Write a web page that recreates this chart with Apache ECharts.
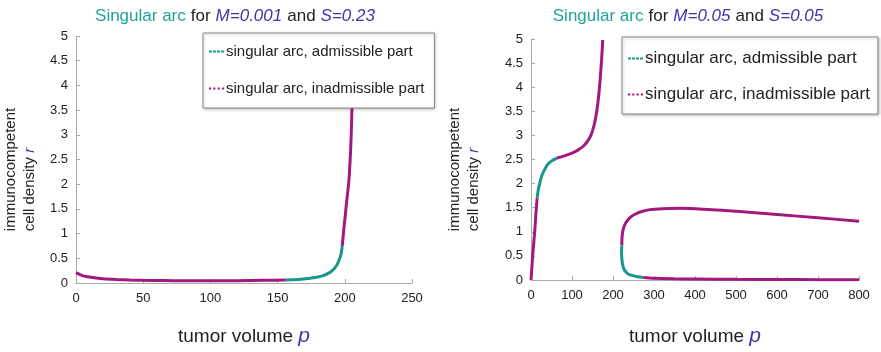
<!DOCTYPE html>
<html>
<head>
<meta charset="utf-8">
<script src="https://cdn.jsdelivr.net/npm/echarts@6/dist/echarts.min.js"></script>
<style>
  html, body { margin: 0; padding: 0; background: #fff; }
  #chart { width: 881px; height: 352px; }
</style>
</head>
<body>
<div id="chart"></div>
<script>
// Panel A: M=0.001, S=0.23  (tumor volume p, immunocompetent cell density r)
const leftInadmissibleLow = [
  [0, 0.21], [3, 0.17], [6, 0.14], [10, 0.12], [15, 0.1], [20, 0.085], [30, 0.07],
  [40, 0.06], [50, 0.055], [65, 0.05], [80, 0.045], [100, 0.045], [120, 0.048],
  [140, 0.055], [156, 0.06]
];
const leftAdmissible = [
  [156, 0.06], [165, 0.07], [172, 0.09], [178, 0.11], [184, 0.15], [188, 0.2],
  [191, 0.26], [194, 0.36], [196, 0.48], [197.3, 0.6], [198.1, 0.75]
];
const leftInadmissibleHigh = [
  [198.1, 0.75], [198.8, 0.95], [199.5, 1.15], [200.3, 1.35], [201, 1.55],
  [202, 1.8], [203, 2.05], [203.8, 2.4], [204.5, 2.8], [205, 3.2], [205.5, 3.7], [206, 4.2]
];

// Panel B: M=0.05, S=0.05
const rightInadmissibleRise = [
  [0, 0], [2, 0.25], [5, 0.6], [7, 0.8], [9, 1.0], [11, 1.25], [13, 1.5], [15, 1.7]
];
const rightAdmissibleUpper = [
  [15, 1.7], [18, 1.88], [22, 2.03], [27, 2.18], [35, 2.32], [42, 2.41], [50, 2.47], [63, 2.53]
];
const rightInadmissibleUpper = [
  [63, 2.53], [80, 2.57], [100, 2.63], [115, 2.7], [128, 2.78], [138, 2.88],
  [146, 3.0], [153, 3.18], [158, 3.38], [162, 3.6], [166, 3.9], [169, 4.2],
  [172, 4.55], [175, 4.98]
];
const rightAdmissibleLower = [
  [221.5, 0.72], [220.8, 0.58], [221.5, 0.45], [223, 0.34], [226, 0.24],
  [231, 0.17], [238, 0.12], [248, 0.09], [260, 0.067], [274, 0.05]
];
const rightInadmissibleLower = [
  [274, 0.05], [300, 0.035], [350, 0.025], [400, 0.02], [500, 0.013],
  [600, 0.01], [700, 0.007], [800, 0.005]
];
const rightInadmissibleArch = [
  [221.5, 0.72], [222, 0.88], [224, 1.02], [228, 1.13], [234, 1.22], [242, 1.3],
  [255, 1.37], [270, 1.42], [290, 1.46], [320, 1.48], [363, 1.49], [420, 1.47],
  [509, 1.42], [600, 1.36], [700, 1.29], [800, 1.22]
];

const leftXTicks = { min: 0, max: 250, interval: 50 };
const rightXTicks = { min: 0, max: 800, interval: 100 };
const yTicks = { min: 0, max: 5, interval: 0.5 };

const NAME_ADM = 'singular arc, admissible part';
const NAME_INADM = 'singular arc, inadmissible part';
const TEAL = '#17978b';
const MAGENTA = '#a2187f';
const BLUE = '#3b35a8';
const FONT = '"Liberation Sans", Arial, sans-serif';

// legend swatches: short dashed (admissible) and dotted (inadmissible) strokes
const DASH_ICON = 'path://M0 0h3v2h-3zM4 0h3v2h-3zM8 0h3v2h-3zM12 0h3v2h-3z';
const DOT_ICON = 'path://M0 0h2v2h-2zM4 0h2v2h-2zM8 0h2v2h-2zM12 0h2v2h-2z';

function curve(name, data, color, xi) {
  return {
    type: 'line', name: name, data: data, xAxisIndex: xi, yAxisIndex: xi,
    symbol: 'none', smooth: 0.25, clip: true,
    lineStyle: { color: color, width: 3 }, itemStyle: { color: color }
  };
}

function xAxis(grid, ticks, gap) {
  return {
    type: 'value', gridIndex: grid, min: ticks.min, max: ticks.max, interval: ticks.interval,
    name: '{t|tumor volume }{p|p}', nameLocation: 'middle', nameGap: gap,
    nameTextStyle: { rich: {
      t: { fontFamily: FONT, fontSize: 19, color: '#222' },
      p: { fontFamily: FONT, fontSize: 21, color: BLUE, fontStyle: 'italic' }
    } },
    axisLine: { show: true, lineStyle: { color: '#aaa', width: 1 } },
    axisTick: { show: true, inside: true, length: 4, lineStyle: { color: '#aaa' } },
    axisLabel: { fontFamily: FONT, fontSize: 13, color: '#222', margin: 9 },
    splitLine: { show: false }
  };
}

function yAxis(grid, gap) {
  return {
    type: 'value', gridIndex: grid, min: yTicks.min, max: yTicks.max, interval: yTicks.interval,
    name: '{a|immunocompetent}\n{a|cell density }{r|r}', nameLocation: 'middle', nameGap: gap,
    nameRotate: 90,
    nameTextStyle: { align: 'center', lineHeight: 19, padding: [0, 20, 0, 0], rich: {
      a: { fontFamily: FONT, fontSize: 15, color: '#222', lineHeight: 19, align: 'left' },
      r: { fontFamily: FONT, fontSize: 15, color: BLUE, fontStyle: 'italic', lineHeight: 19, align: 'left' }
    } },
    axisLine: { show: true, lineStyle: { color: '#aaa', width: 1 } },
    axisTick: { show: true, inside: true, length: 4, lineStyle: { color: '#aaa' } },
    axisLabel: { fontFamily: FONT, fontSize: 13, color: '#222', margin: 8,
      formatter: v => String(v) },
    splitLine: { show: false }
  };
}

function title(center, mText, sText) {
  const base = { fontFamily: FONT, fontSize: 17, fontWeight: 'normal' };
  return {
    left: center, top: 2, textAlign: 'center',
    text: '{g|Singular arc} {k|for} {b|M=' + mText + '} {k|and} {b|S=' + sText + '}',
    textStyle: { fontWeight: 'normal', rich: {
      g: Object.assign({ color: '#1ea39a' }, base),
      k: Object.assign({ color: '#222' }, base),
      b: Object.assign({ color: BLUE, fontStyle: 'italic' }, base)
    } }
  };
}

function legend(left, top, fontSize, gap, pad) {
  return {
    orient: 'vertical', left: left, top: top, padding: pad, itemGap: gap,
    itemWidth: 15, itemHeight: 3,
    backgroundColor: '#fff', borderColor: '#8a8a8a', borderWidth: 1,
    shadowColor: 'rgba(0,0,0,0.25)', shadowBlur: 3, shadowOffsetX: 1, shadowOffsetY: 1,
    textStyle: { fontFamily: FONT, fontSize: fontSize, color: '#222', padding: [0, 0, 0, -3] },
    selectedMode: false,
    data: [
      { name: NAME_ADM, icon: DASH_ICON, itemStyle: { color: TEAL } },
      { name: NAME_INADM, icon: DOT_ICON, itemStyle: { color: MAGENTA } }
    ]
  };
}

const chart = echarts.init(document.getElementById('chart'), null, { renderer: 'canvas' });
chart.setOption({
  backgroundColor: '#fff',
  animation: false,
  title: [title(230, '0.001', '0.23'), title(683, '0.05', '0.05')],
  legend: [
    legend(203, 33, 15, 22, [11, 10, 12, 6]),
    legend(622, 37, 17, 19, [13, 8, 11, 6])
  ],
  grid: [
    { left: 73, top: 36, width: 339, height: 258, containLabel: false },
    { left: 531, top: 39, width: 328, height: 248, containLabel: false }
  ],
  xAxis: [xAxis(0, leftXTicks, 43), xAxis(1, rightXTicks, 46)],
  yAxis: [yAxis(0, 37), yAxis(1, 48)],
  series: [
    curve(NAME_INADM, leftInadmissibleLow, MAGENTA, 0),
    curve(NAME_ADM, leftAdmissible, TEAL, 0),
    curve(NAME_INADM, leftInadmissibleHigh, MAGENTA, 0),
    curve(NAME_INADM, rightInadmissibleRise, MAGENTA, 1),
    curve(NAME_ADM, rightAdmissibleUpper, TEAL, 1),
    curve(NAME_INADM, rightInadmissibleUpper, MAGENTA, 1),
    curve(NAME_INADM, rightInadmissibleArch, MAGENTA, 1),
    curve(NAME_ADM, rightAdmissibleLower, TEAL, 1),
    curve(NAME_INADM, rightInadmissibleLower, MAGENTA, 1)
  ]
});
</script>
</body>
</html>
